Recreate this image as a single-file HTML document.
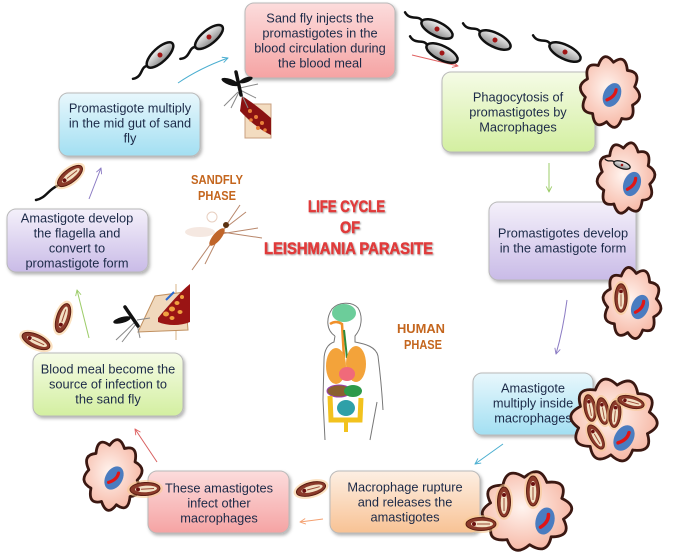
<!DOCTYPE html>
<html><head><meta charset="utf-8"><style>
html,body{margin:0;padding:0;background:#fff;}
svg{display:block;}
text{font-family:"Liberation Sans",sans-serif;}
.t{font-size:12.8px;fill:#1c2a48;text-anchor:middle;}
.ph{font-size:12.5px;font-weight:bold;fill:#c4661e;}
.ti{font-size:17px;font-weight:bold;fill:#e03a3a;stroke:#e03a3a;stroke-width:0.5px;}
</style></head><body>
<svg width="673" height="556" viewBox="0 0 673 556" xmlns="http://www.w3.org/2000/svg">
<defs>
 <linearGradient id="gPink" x1="0" y1="0" x2="0" y2="1"><stop offset="0" stop-color="#fcdcdc"/><stop offset="1" stop-color="#f5a3a3"/></linearGradient>
 <linearGradient id="gGreen" x1="0" y1="0" x2="0" y2="1"><stop offset="0" stop-color="#f5fbe6"/><stop offset="1" stop-color="#d3efa0"/></linearGradient>
 <linearGradient id="gPurple" x1="0" y1="0" x2="0" y2="1"><stop offset="0" stop-color="#f4f0fa"/><stop offset="1" stop-color="#c9bbe7"/></linearGradient>
 <linearGradient id="gBlue" x1="0" y1="0" x2="0" y2="1"><stop offset="0" stop-color="#e8f7fc"/><stop offset="1" stop-color="#a2dff2"/></linearGradient>
 <linearGradient id="gOrange" x1="0" y1="0" x2="0" y2="1"><stop offset="0" stop-color="#fdefe3"/><stop offset="1" stop-color="#f8c294"/></linearGradient>
 <linearGradient id="gPro" x1="0" y1="0" x2="0" y2="1"><stop offset="0" stop-color="#f4f4f4"/><stop offset="1" stop-color="#8c8c8c"/></linearGradient>
 <radialGradient id="gMac" cx="0.45" cy="0.45" r="0.6"><stop offset="0" stop-color="#fff4ef"/><stop offset="1" stop-color="#f6b5a2"/></radialGradient>
 <filter id="sh" x="-10%" y="-10%" width="130%" height="140%"><feDropShadow dx="1.5" dy="2" stdDeviation="1.5" flood-color="#000" flood-opacity="0.3"/></filter>
 <filter id="tsh" x="-10%" y="-30%" width="130%" height="160%"><feDropShadow dx="1" dy="1" stdDeviation="0.8" flood-color="#000" flood-opacity="0.35"/></filter>
 <marker id="aBlue" viewBox="0 0 10 10" refX="9" refY="5" markerWidth="7" markerHeight="7" orient="auto"><path d="M1,1 L9,5 L1,9" fill="none" stroke="#4aaed0" stroke-width="1.3"/></marker>
 <marker id="aRed" viewBox="0 0 10 10" refX="9" refY="5" markerWidth="7" markerHeight="7" orient="auto"><path d="M1,1 L9,5 L1,9" fill="none" stroke="#e06262" stroke-width="1.3"/></marker>
 <marker id="aGreen" viewBox="0 0 10 10" refX="9" refY="5" markerWidth="7" markerHeight="7" orient="auto"><path d="M1,1 L9,5 L1,9" fill="none" stroke="#9dcc6a" stroke-width="1.3"/></marker>
 <marker id="aPurple" viewBox="0 0 10 10" refX="9" refY="5" markerWidth="7" markerHeight="7" orient="auto"><path d="M1,1 L9,5 L1,9" fill="none" stroke="#8c7cc4" stroke-width="1.3"/></marker>
 <marker id="aOrange" viewBox="0 0 10 10" refX="9" refY="5" markerWidth="7" markerHeight="7" orient="auto"><path d="M1,1 L9,5 L1,9" fill="none" stroke="#f4a070" stroke-width="1.3"/></marker>

 <g id="mac"><path d="M23.8,7.7 Q29.1,21.2 14.7,20.2 Q11.1,34.2 0,25 Q-11.1,34.2 -14.7,20.2 Q-29.1,21.2 -23.8,7.7 Q-36,0 -23.8,-7.7 Q-29.1,-21.2 -14.7,-20.2 Q-11.1,-34.2 0,-25 Q11.1,-34.2 14.7,-20.2 Q29.1,-21.2 23.8,-7.7 Q36,0 23.8,7.7 Z" fill="url(#gMac)" stroke="#3b1812" stroke-width="2.8" vector-effect="non-scaling-stroke" stroke-linejoin="round"/></g>
 <g id="nuc"><ellipse rx="8.5" ry="12.5" fill="#4a7cc0"/><path d="M1.5,-6.5 Q3.5,0 -2.5,6.5" stroke="#e01616" stroke-width="3.2" fill="none" stroke-linecap="round"/></g>
 <g id="ama"><ellipse rx="18" ry="9" fill="#f7c98c" opacity="0.55"/><ellipse rx="15" ry="6.5" fill="#8b3a2a" stroke="#5b1d12" stroke-width="1"/><ellipse cx="1" rx="11" ry="3.3" fill="#f3e0c4"/><line x1="-4" y1="0" x2="9" y2="0" stroke="#9a4a36" stroke-width="1"/><circle cx="-7" cy="0" r="2" fill="#6b1010"/></g>
 <g id="pro"><path d="M-16,0 C-22,-6 -27,5 -36,-1" fill="none" stroke="#111" stroke-width="2.5" stroke-linecap="round"/><ellipse rx="17" ry="7" fill="url(#gPro)" stroke="#111" stroke-width="2.5"/><circle r="2.5" fill="#a01515"/></g>
</defs>

<!-- Boxes -->
<g filter="url(#sh)" stroke="#b9b9b9" stroke-width="1">
 <rect x="245" y="3" width="150" height="75" rx="9" fill="url(#gPink)"/>
 <rect x="442" y="72" width="153" height="80" rx="9" fill="url(#gGreen)"/>
 <rect x="489" y="202" width="147" height="78" rx="9" fill="url(#gPurple)"/>
 <rect x="473" y="373" width="120" height="62" rx="9" fill="url(#gBlue)"/>
 <rect x="330" y="471" width="150" height="62" rx="9" fill="url(#gOrange)"/>
 <rect x="148" y="471" width="141" height="62" rx="9" fill="url(#gPink)"/>
 <rect x="33" y="353" width="150" height="63" rx="9" fill="url(#gGreen)"/>
 <rect x="59" y="93" width="141" height="63" rx="9" fill="url(#gBlue)"/>
 <rect x="7" y="209" width="141" height="63" rx="9" fill="url(#gPurple)"/>
</g>

<!-- Box texts -->
<text class="t" x="320" y="22.5">Sand fly injects the</text>
<text class="t" x="320" y="37.5">promastigotes in the</text>
<text class="t" x="320" y="52.5">blood circulation during</text>
<text class="t" x="320" y="67.5">the blood meal</text>

<text class="t" x="518" y="101.5">Phagocytosis of</text>
<text class="t" x="518" y="116.5">promastigotes by</text>
<text class="t" x="518" y="131.5">Macrophages</text>

<text class="t" x="563" y="237.5">Promastigotes develop</text>
<text class="t" x="563" y="252.5">in the amastigote form</text>

<text class="t" x="533" y="392.5">Amastigote</text>
<text class="t" x="533" y="407.5">multiply inside</text>
<text class="t" x="533" y="422.5">macrophages</text>

<text class="t" x="405" y="491.5">Macrophage rupture</text>
<text class="t" x="405" y="506.5">and releases the</text>
<text class="t" x="405" y="521.5">amastigotes</text>

<text class="t" x="219" y="492.5">These amastigotes</text>
<text class="t" x="219" y="507.5">infect other</text>
<text class="t" x="219" y="522.5">macrophages</text>

<text class="t" x="108" y="373.5">Blood meal become the</text>
<text class="t" x="108" y="388.5">source of infection to</text>
<text class="t" x="108" y="403.5">the sand fly</text>

<text class="t" x="130" y="112.5">Promastigote multiply</text>
<text class="t" x="130" y="127.5">in the mid gut of sand</text>
<text class="t" x="130" y="142.5">fly</text>

<text class="t" x="77" y="222.5">Amastigote develop</text>
<text class="t" x="77" y="237.5">the flagella and</text>
<text class="t" x="77" y="252.5">convert to</text>
<text class="t" x="77" y="267.5">promastigote form</text>

<!-- Arrows -->
<g fill="none" stroke-width="1">
 <path d="M178,83 Q200,68 228,58" stroke="#4aaed0" marker-end="url(#aBlue)"/>
 <path d="M412,55 L458,66" stroke="#e06262" marker-end="url(#aRed)"/>
 <path d="M549,163 L549,192" stroke="#9dcc6a" marker-end="url(#aGreen)"/>
 <path d="M567,300 Q563,330 556,354" stroke="#8c7cc4" marker-end="url(#aPurple)"/>
 <path d="M503,444 L475,464" stroke="#4aaed0" marker-end="url(#aBlue)"/>
 <path d="M323,519 L300,522" stroke="#f4a070" marker-end="url(#aOrange)"/>
 <path d="M157,462 L135,429" stroke="#d86060" marker-end="url(#aRed)"/>
 <path d="M89,338 L77,290" stroke="#9dcc6a" marker-end="url(#aGreen)"/>
 <path d="M89,199 L101,168" stroke="#8c7cc4" marker-end="url(#aPurple)"/>
</g>

<!-- Title & phases -->
<g filter="url(#tsh)">
 <text class="ti" x="308" y="212" textLength="77" lengthAdjust="spacingAndGlyphs">LIFE CYCLE</text>
 <text class="ti" x="340" y="233" textLength="20" lengthAdjust="spacingAndGlyphs">OF</text>
 <text class="ti" x="264" y="254" textLength="169" lengthAdjust="spacingAndGlyphs">LEISHMANIA PARASITE</text>
</g>
<text class="ph" x="191" y="184" textLength="52" lengthAdjust="spacingAndGlyphs">SANDFLY</text>
<text class="ph" x="198" y="200" textLength="38" lengthAdjust="spacingAndGlyphs">PHASE</text>
<text class="ph" x="397" y="333" textLength="48" lengthAdjust="spacingAndGlyphs">HUMAN</text>
<text class="ph" x="404" y="349" textLength="38" lengthAdjust="spacingAndGlyphs">PHASE</text>

<!-- Promastigotes top -->
<use href="#pro" transform="translate(160,55) rotate(-43)"/>
<use href="#pro" transform="translate(209,37) rotate(-39)"/>
<use href="#pro" transform="translate(437,29) rotate(26)"/>
<use href="#pro" transform="translate(442,53) rotate(26)"/>
<use href="#pro" transform="translate(495,40) rotate(26)"/>
<use href="#pro" transform="translate(565,52) rotate(26)"/>

<!-- Macrophages -->
<use href="#mac" transform="translate(610,92) scale(1.0,1.2) rotate(8)"/>
<use href="#nuc" transform="translate(612,95) rotate(25)"/>

<use href="#mac" transform="translate(626,178) scale(0.97,1.2) rotate(-6)"/>
<use href="#nuc" transform="translate(632,184) rotate(20)"/>
<use href="#pro" transform="translate(622,165) rotate(18) scale(0.5)"/>

<use href="#mac" transform="translate(632,303) scale(0.98,1.2) rotate(10)"/>
<use href="#nuc" transform="translate(640,307) rotate(20)"/>
<use href="#ama" transform="translate(621,298) rotate(90) scale(0.95)"/>

<use href="#mac" transform="translate(614,420) scale(1.45,1.4) rotate(5)"/>
<use href="#nuc" transform="translate(624,438) rotate(30) scale(1.1)"/>
<use href="#ama" transform="translate(590,408) rotate(80) scale(0.9)"/>
<use href="#ama" transform="translate(603,411) rotate(80) scale(0.9)"/>
<use href="#ama" transform="translate(615,414) rotate(95) scale(0.9)"/>
<use href="#ama" transform="translate(631,402) rotate(15) scale(0.9)"/>
<use href="#ama" transform="translate(596,437) rotate(60) scale(0.9)"/>

<use href="#mac" transform="translate(527,511) scale(1.5,1.35) rotate(-4)"/>
<use href="#nuc" transform="translate(545,521) rotate(15) scale(1.1)"/>
<use href="#ama" transform="translate(504,502) rotate(90)"/>
<use href="#ama" transform="translate(533,491) rotate(90)"/>
<use href="#ama" transform="translate(481,524)"/>

<use href="#mac" transform="translate(113,475) scale(0.98,1.2) rotate(-8)"/>
<use href="#nuc" transform="translate(114,478) rotate(30)"/>

<!-- loose amastigotes -->
<use href="#ama" transform="translate(311,489) rotate(-15)"/>
<use href="#ama" transform="translate(145,489) rotate(-3)"/>
<use href="#ama" transform="translate(36,341) rotate(25)"/>
<use href="#ama" transform="translate(63,318) rotate(-72)"/>
<!-- brown promastigote with flagellum -->
<path d="M57,186 C48,190 46,198 36,200" fill="none" stroke="#111" stroke-width="2.5" stroke-linecap="round"/>
<use href="#ama" transform="translate(70,176) rotate(-38)"/>

<!-- Top mosquito + skin -->
<rect x="245" y="104" width="26" height="34" fill="#f3dcc0" stroke="#c8a080" stroke-width="1"/>
<path d="M242,96 C252,102 262,110 271,118 L271,135 C262,131 250,122 240,111 Z" fill="#8a1212"/>
<g fill="#e8803a"><circle cx="250" cy="111" r="2"/><circle cx="256" cy="117" r="2"/><circle cx="262" cy="123" r="2"/><circle cx="258" cy="128" r="2"/><circle cx="251" cy="120" r="1.8"/><circle cx="265" cy="130" r="1.8"/></g>
<g stroke="#888" stroke-width="1" fill="none"><line x1="240" y1="88" x2="258" y2="84"/><line x1="240" y1="90" x2="256" y2="98"/><line x1="238" y1="92" x2="224" y2="106"/><line x1="239" y1="92" x2="231" y2="108"/><line x1="241" y1="93" x2="248" y2="108"/></g>
<line x1="236" y1="72" x2="241" y2="95" stroke="#111" stroke-width="3.5" stroke-linecap="round"/>
<ellipse cx="230" cy="82" rx="9" ry="3" transform="rotate(20 230 82)" fill="#111"/>
<ellipse cx="246" cy="80" rx="7" ry="2.5" transform="rotate(-20 246 80)" fill="#111"/>

<!-- Center mosquito -->
<ellipse cx="200" cy="232" rx="15" ry="5" fill="#f2e2da" opacity="0.8"/>
<circle cx="212" cy="217" r="5" fill="none" stroke="#e8cfc0" stroke-width="1"/>
<g stroke="#b8866a" stroke-width="1" fill="none">
 <line x1="222" y1="232" x2="262" y2="238"/><line x1="224" y1="229" x2="246" y2="212"/><line x1="220" y1="234" x2="258" y2="228"/>
 <line x1="212" y1="242" x2="192" y2="270"/><line x1="215" y1="244" x2="205" y2="264"/><line x1="225" y1="227" x2="240" y2="205"/>
</g>
<ellipse cx="217" cy="237" rx="11" ry="4" transform="rotate(-50 217 237)" fill="#c0652a"/>
<circle cx="226" cy="225" r="3" fill="#5a3010"/>

<!-- Lower-left mosquito + skin -->
<line x1="176" y1="284" x2="176" y2="340" stroke="#d8b488" stroke-width="1"/>
<polygon points="138,332 155,296 185,292 188,330" fill="#f0d8bc" stroke="#c09060" stroke-width="1"/>
<path d="M158,318 C168,306 180,292 190,284 L190,322 C180,326 168,326 158,322 Z" fill="#9a1414"/>
<g fill="#f0a040"><ellipse cx="166" cy="314" rx="3" ry="2.5"/><ellipse cx="172" cy="309" rx="3" ry="2.5"/><ellipse cx="177" cy="303" rx="2.5" ry="2"/><ellipse cx="182" cy="297" rx="2" ry="2"/><ellipse cx="172" cy="318" rx="2.5" ry="2"/><ellipse cx="180" cy="312" rx="2.5" ry="2"/></g>
<line x1="166" y1="300" x2="174" y2="292" stroke="#2a6ad0" stroke-width="2"/>
<g stroke="#888" stroke-width="1"><line x1="135" y1="322" x2="116" y2="340"/><line x1="136" y1="324" x2="122" y2="342"/><line x1="137" y1="324" x2="140" y2="338"/><line x1="137" y1="320" x2="150" y2="318"/></g>
<line x1="125" y1="307" x2="138" y2="326" stroke="#111" stroke-width="3.5" stroke-linecap="round"/>
<ellipse cx="122" cy="320" rx="9" ry="3" transform="rotate(-15 122 320)" fill="#111"/>

<!-- Human figure -->
<g fill="none" stroke="#777" stroke-width="1">
 <path d="M335,336 C326,330 326,318 332,309 C338,302 352,301 358,308 C363,316 362,328 355,336 L355,342 C366,344 376,347 378,356 C380,372 382,392 383,410"/>
 <path d="M335,336 L334,342 C328,344 324,350 324,360 L323,400 L325,440"/>
 <path d="M377,402 L370,440"/>
</g>
<ellipse cx="344" cy="313" rx="12" ry="9" fill="#6ccd9a"/>
<path d="M330,324 Q336,320 342,324 L344,358" fill="none" stroke="#f0902a" stroke-width="2.5"/>
<path d="M344,330 L347,358" stroke="#2e8a3a" stroke-width="2"/>
<ellipse cx="336" cy="366" rx="10" ry="18" fill="#f3a33a"/>
<ellipse cx="356" cy="364" rx="10" ry="18" fill="#f3a33a"/>
<ellipse cx="347" cy="374" rx="8" ry="7" fill="#f06a7a"/>
<ellipse cx="339" cy="391" rx="12" ry="6" fill="#8a6030" stroke="#9a40b0" stroke-width="1"/>
<ellipse cx="353" cy="391" rx="9" ry="6" fill="#2e9a4a"/>
<path d="M330,396 L331,420 L360,420 L361,398" fill="none" stroke="#f2c21e" stroke-width="5"/>
<ellipse cx="346" cy="408" rx="9" ry="8" fill="#2ea0a8"/>
<path d="M346,420 L346,432" stroke="#f2c21e" stroke-width="4"/>
</svg>
</body></html>
